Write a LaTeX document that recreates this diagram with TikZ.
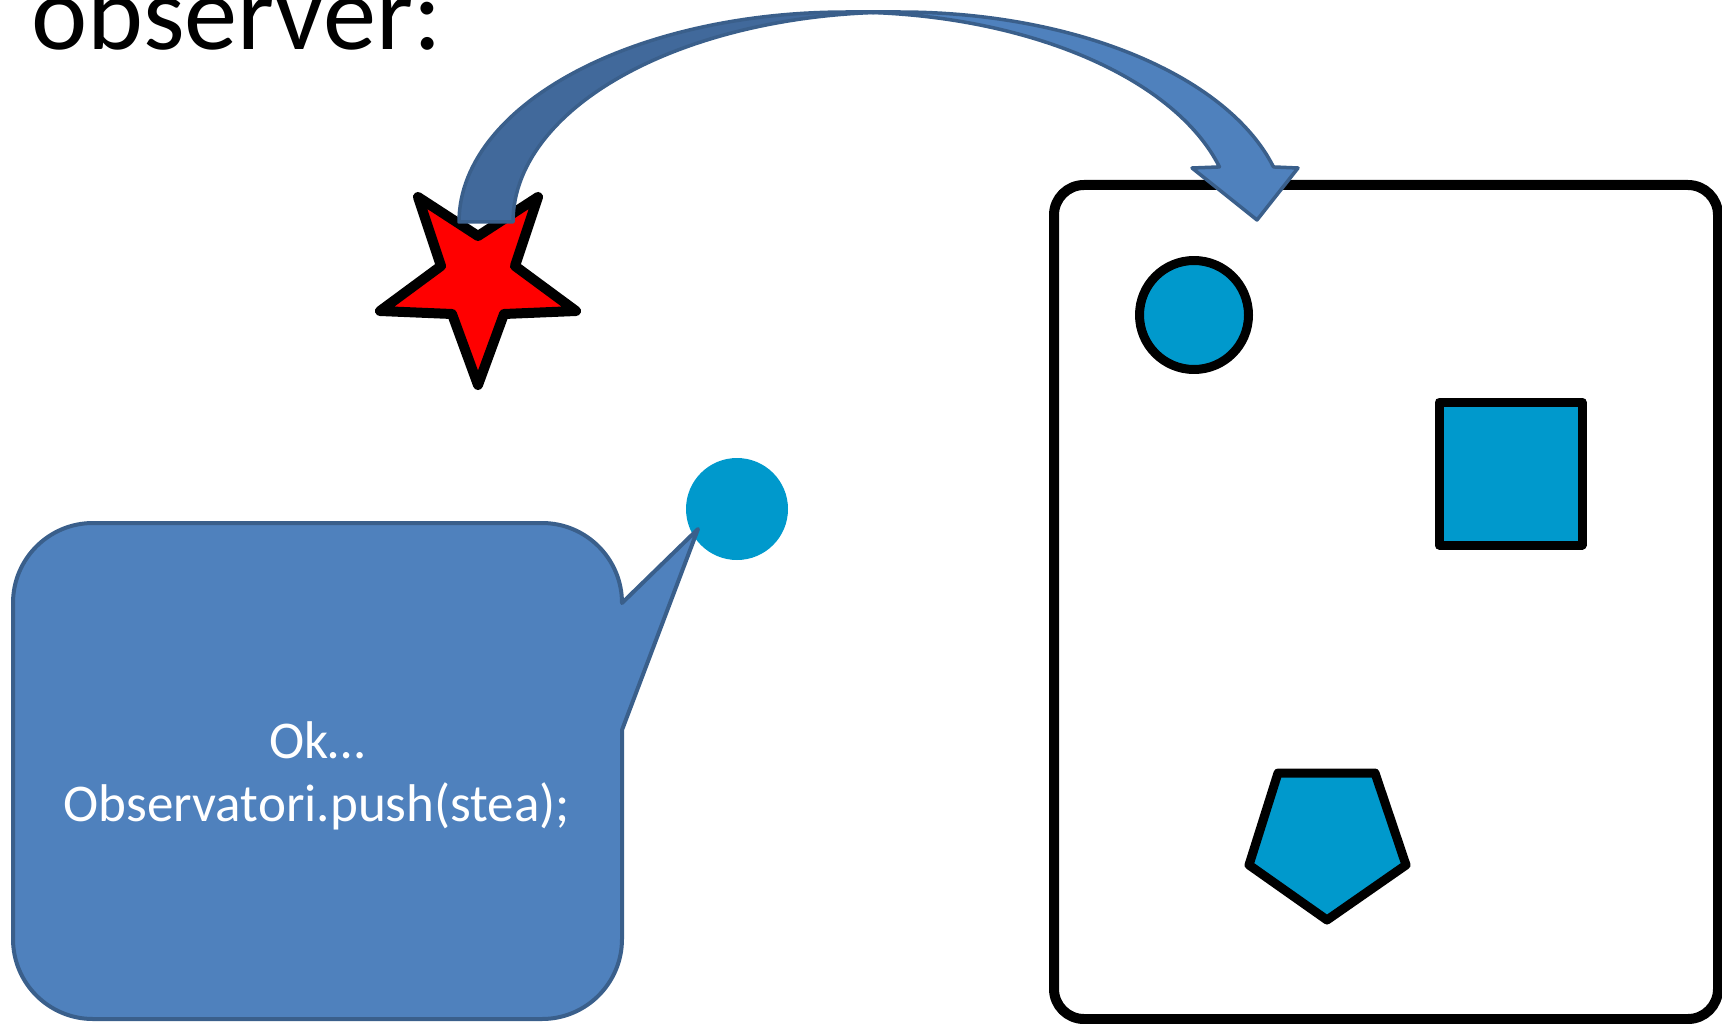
\documentclass[tikz,border=0pt]{standalone}
\usepackage{fontspec}
\setmainfont{Carlito}
\definecolor{lightblue}{HTML}{4F81BD}
\definecolor{darkblue}{HTML}{41699B}
\definecolor{edgeblue}{HTML}{3A5F8B}
\definecolor{tealfill}{HTML}{0099CC}
\tikzset{
  arrowpart/.style={draw=edgeblue, line width=0.35mm, line join=round},
  bubblebox/.style={draw=edgeblue, fill=lightblue, line width=0.4mm, line join=round},
  starpart/.style={draw=black, fill=red, line width=1mm, line join=round},
  framebox/.style={draw=black, line width=1mm},
  blackedge/.style={draw=black, fill=tealfill, line width=0.9mm, line join=round},
  titletext/.style={font=\fontsize{30.3}{36}\selectfont, inner sep=0pt},
  bubbletext/.style={font=\fontsize{15.1}{18}\selectfont, text=white, inner sep=0pt}
}
\begin{document}
\begin{tikzpicture}[x=0.1mm, y=-0.1mm]
\useasboundingbox (0,0) rectangle (1722,1024);

% title
\node[titletext, anchor=base west] (title) at (31,50) {observer:};

% frame box on the right
\draw[framebox, rounded corners=3mm] (1054,185) rectangle (1718,1019);

% shapes inside the frame
\node[blackedge, circle, minimum size=10.9mm, inner sep=0pt] (round) at (1194,315) {};
\node[blackedge, rectangle, minimum size=14.3mm, inner sep=0pt] (square) at (1510.5,473.5) {};
\draw[blackedge] (1278,773) -- (1375,773) -- (1406,865) -- (1327,920) -- (1249,865) -- cycle;

% star (pointing down)
\draw[starpart] (478,385) -- (452,314) -- (380,311) -- (441,266) -- (418,197) -- (478,236)
  -- (538,197) -- (515,266) -- (576,311) -- (504,314) -- cycle;

% curved arrow: dark back part
\draw[arrowpart, fill=darkblue]
  plot[domain=180:270, samples=60] ({846+387*cos(\x)},{222+210*sin(\x)})
  -- plot[domain=270:180, samples=60] ({900+387*cos(\x)},{222+210*sin(\x)})
  -- cycle;
% curved arrow: light front part with head
\draw[arrowpart, fill=lightblue]
  plot[domain=270:344.8, samples=60] ({846+387*cos(\x)},{222+210*sin(\x)})
  -- (1192,168) -- (1257,220) -- (1298,168)
  -- plot[domain=344.8:270, samples=60] ({900+387*cos(\x)},{222+210*sin(\x)})
  -- cycle;

% small teal dot
\node[circle, fill=tealfill, minimum size=10.2mm, inner sep=0pt] (dot) at (737,509) {};

% speech bubble
\draw[bubblebox] (13,939) -- (13,603) arc[start angle=180, end angle=90, radius=8mm]
  -- (542,523) arc[start angle=90, end angle=0, radius=8mm]
  -- (698,529) -- (622,730) -- (622,939) arc[start angle=0, end angle=-90, radius=8mm]
  -- (93,1019) arc[start angle=270, end angle=180, radius=8mm] -- cycle;

\node[bubbletext, anchor=base] (ok) at (317,758) {Ok…};
\node[bubbletext, anchor=base] (push) at (317,821) {Observatori.push(stea);};
\end{tikzpicture}
\end{document}
